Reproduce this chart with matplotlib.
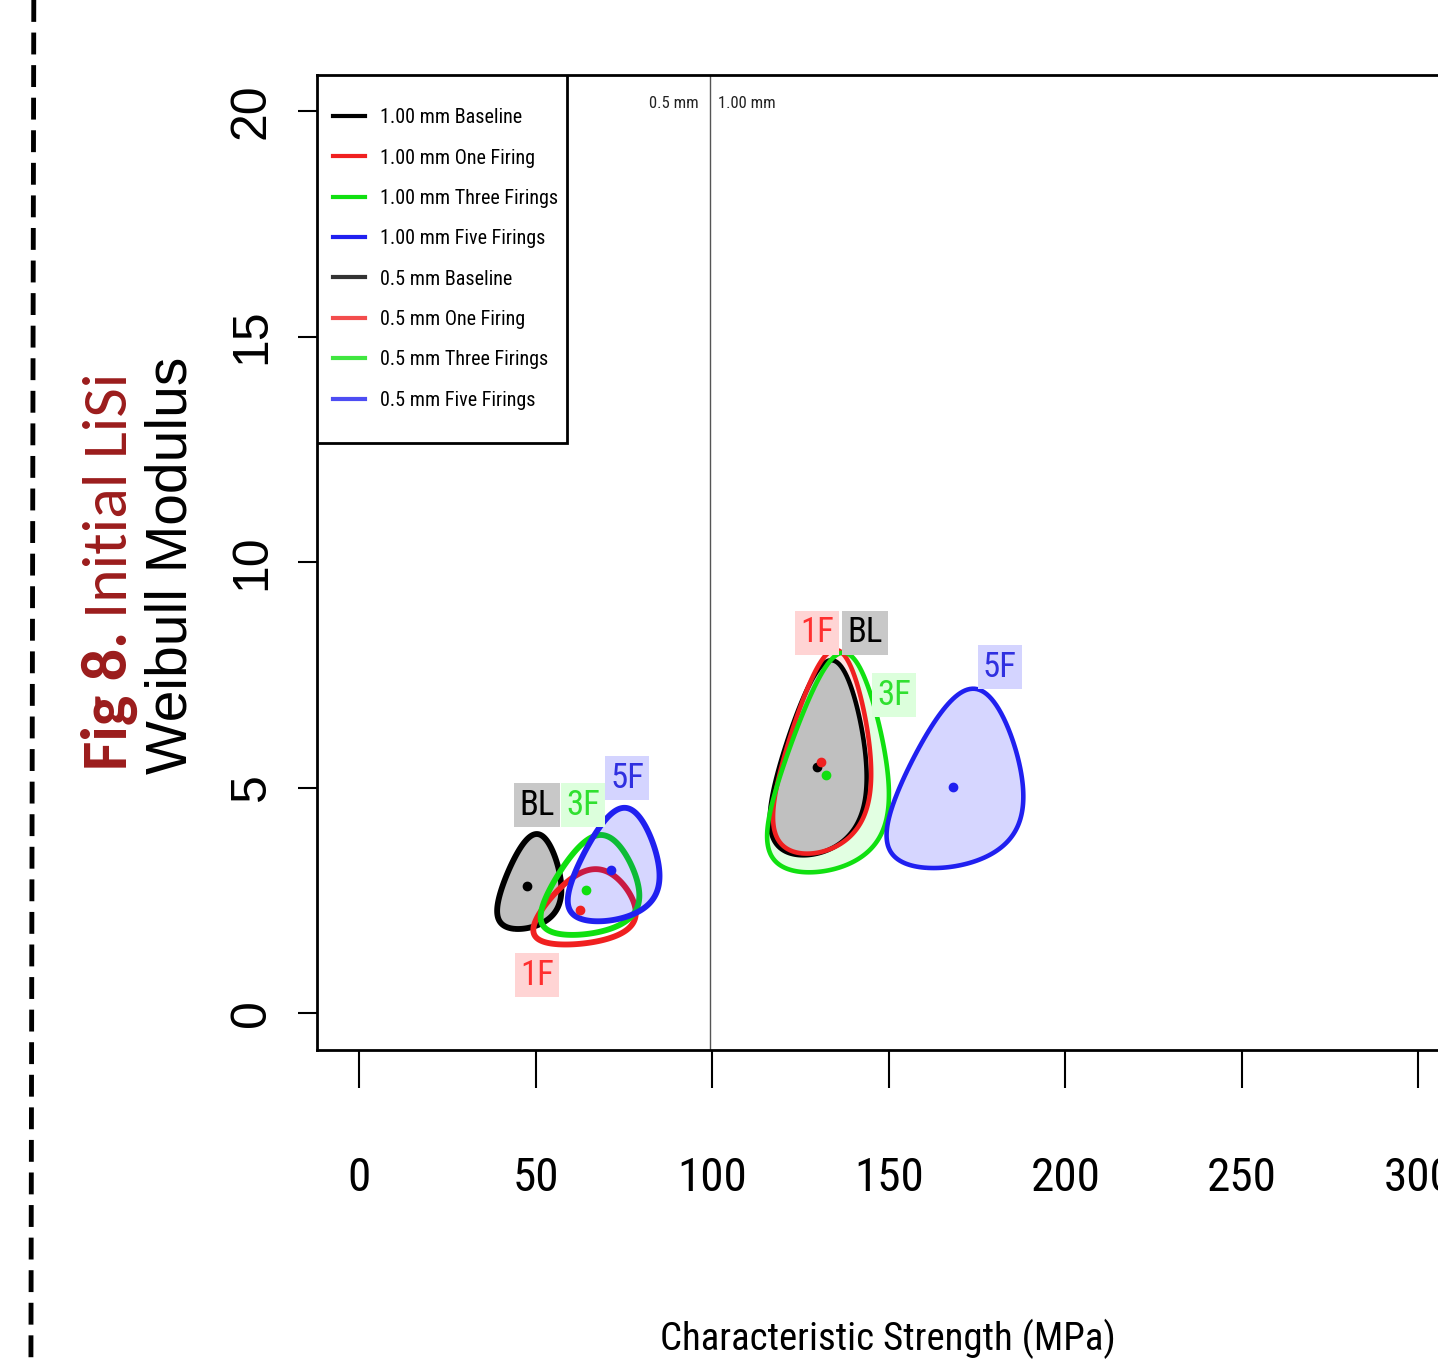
import math
import numpy as np
import matplotlib
matplotlib.use("Agg")
import matplotlib.pyplot as plt
from matplotlib.lines import Line2D
from matplotlib.patches import Rectangle

# ------------------------------------------------------------------ data
groups = ["BL", "1F", "3F", "5F"]
group_names = ["Baseline", "One Firing", "Three Firings", "Five Firings"]

# Weibull MLEs: characteristic strength (MPa), modulus
eta_100 = [129.7, 130.8, 132.2, 168.2]
beta_100 = [5.45, 5.57, 5.28, 5.01]
n_100 = [23, 22, 17, 23]          # specimens per group (sets region size)

eta_05 = [47.6, 62.6, 64.3, 71.3]
beta_05 = [2.82, 2.28, 2.73, 3.17]
n_05 = [26, 27, 22, 23]

x_ticks = [0, 50, 100, 150, 200, 250, 300]
y_ticks = [0, 5, 10, 15, 20]
thickness_split = 99.3            # MPa, divider between the two thicknesses

# ------------------------------------------------------------------ style
LINE = ["black", "#f02020", "#10e010", "#2020f0"]
LABEL_TXT = ["black", "#ff3030", "#30e030", "#3030e0"]
LABEL_BG = ["#c8c8c8", "#ffd4d4", "#dcffdc", "#d4d4ff"]
FIG_RED = "#9b1c1c"
NARROW = ["Liberation Sans Narrow", "Arial Narrow", "Roboto Condensed",
          "Archivo Narrow", "PT Sans Narrow", "Liberation Sans", "DejaVu Sans"]
CALIBRI = ["Carlito", "Calibri", "Roboto Condensed", "Liberation Sans",
           "DejaVu Sans"]
SANS = ["Liberation Sans", "DejaVu Sans"]

# label anchor points (data units) for the BL/1F/3F/5F tags
label_pos_05 = [(50.4, 4.61), (50.4, 0.84), (63.4, 4.61), (75.9, 5.21)]
label_pos_100 = [(143.3, 8.43), (129.7, 8.43), (151.5, 7.05), (181.5, 7.67)]

EULER = 0.5772156649
CHI2_95 = 5.991 / 2.0
lgamma = np.vectorize(math.lgamma)


def exp_loglik(eta, beta, eta0, beta0):
    """Expected per-specimen Weibull log-likelihood for data ~ W(eta0, beta0)."""
    return (np.log(beta) - beta * np.log(eta)
            + (beta - 1) * (np.log(eta0) - EULER / beta0)
            - np.exp(beta * np.log(eta0 / eta) + lgamma(1 + beta / beta0)))


def region(eta0, beta0, n):
    e = np.linspace(eta0 * 0.55, eta0 * 1.6, 260)
    b = np.linspace(beta0 * 0.35, beta0 * 2.0, 260)
    E, B = np.meshgrid(e, b)
    D = n * (exp_loglik(eta0, beta0, eta0, beta0) - exp_loglik(E, B, eta0, beta0))
    return E, B, D


def draw_group(ax, etas, betas, ns, fills, lw):
    # fills: per group (face, alpha, zorder) or None
    for i in range(4):
        E, B, D = region(etas[i], betas[i], ns[i])
        if fills[i] is not None:
            face, alpha, z = fills[i]
            ax.contourf(E, B, D, levels=[0, CHI2_95], colors=[face],
                        alpha=alpha, zorder=z)
        z_line = 3.5 if i == 3 else 2 + (0.1 if i == 0 else 0.2 * i)
        ax.contour(E, B, D, levels=[CHI2_95], colors=[LINE[i]],
                   linewidths=lw, zorder=z_line)
        ax.plot(etas[i], betas[i], "o", color=LINE[i], ms=6, zorder=5)


def tag(ax, pos, i):
    ax.text(pos[0], pos[1], groups[i], color=LABEL_TXT[i], fontsize=25,
            family=NARROW, ha="center", va="center", zorder=6,
            bbox=dict(boxstyle="square,pad=0.15", fc=LABEL_BG[i], ec="none"))


# --------------------------------------------------------------- figure
fig = plt.figure(figsize=(14.38, 13.67), dpi=100)
ax = fig.add_axes([0.2202, 0.2319, 0.8153, 0.7132])
ax.set_xlim(-12, 320)
ax.set_ylim(-0.82, 20.8)

fills_100 = [("#c0c0c0", 1.0, 1.5), ("#ffe2e2", 1.0, 1.0),
             ("#e2ffe2", 1.0, 0.9), ("#0000ff", 0.16, 3.4)]
fills_05 = [("#c0c0c0", 1.0, 1.5), None, None, ("#0000ff", 0.16, 3.4)]

draw_group(ax, eta_100, beta_100, n_100, fills_100, lw=3.3)
draw_group(ax, eta_05, beta_05, n_05, fills_05, lw=4.2)

for i in range(4):
    tag(ax, label_pos_05[i], i)
    tag(ax, label_pos_100[i], i)

# thickness divider
ax.axvline(thickness_split, color="#555555", lw=1.0, zorder=1)
ax.annotate("0.5 mm", xy=(thickness_split, 20.18), xytext=(-8, 0),
            textcoords="offset points", ha="right", va="center",
            fontsize=12, family=NARROW, color="#222222")
ax.annotate("1.00 mm", xy=(thickness_split, 20.18), xytext=(6, 0),
            textcoords="offset points", ha="left", va="center",
            fontsize=12, family=NARROW, color="#222222")

# axes cosmetics (R base-graphics look)
for s in ax.spines.values():
    s.set_linewidth(2.0)
ax.set_xticks(x_ticks)
ax.set_yticks(y_ticks)
ax.tick_params(axis="x", direction="out", length=27, width=1.5, pad=49,
               labelsize=34)
ax.tick_params(axis="y", direction="out", length=14, width=1.5, pad=16,
               labelsize=36, labelrotation=90)
for lab in ax.get_xticklabels():
    lab.set_family(NARROW)
for lab in ax.get_yticklabels():
    lab.set_family(SANS)
    lab.set_va("center")

ax.set_xlabel("Characteristic Strength (MPa)", fontsize=28, family=NARROW)
ax.xaxis.set_label_coords(0.487, -0.276)
ax.set_ylabel("Weibull Modulus", fontsize=41, family=SANS)
ax.yaxis.set_label_coords(-0.101, 0.497)

# legend (frame drawn separately: R pads it more vertically than sideways)
handles, labels = [], []
for thick, alpha in (("1.00 mm", 1.0), ("0.5 mm", 0.8)):
    for i in range(4):
        handles.append(Line2D([], [], color=LINE[i], lw=3, alpha=alpha))
        labels.append(f"{thick} {group_names[i]}")
leg = ax.legend(handles, labels, loc="upper left",
                bbox_to_anchor=(0, 1 - 17 / 975), borderaxespad=0,
                frameon=False, prop=dict(family=NARROW, size=14.5),
                handlelength=1.6, handletextpad=0.75, labelspacing=1.06,
                borderpad=0.8)
leg.set_zorder(7)

# side caption
t1 = fig.text(127 / 1438, 1 - 770 / 1367, "Fig 8.", rotation=90,
              rotation_mode="anchor", ha="left", va="baseline",
              fontsize=46, fontweight="bold", family=CALIBRI, color=FIG_RED)
fig.canvas.draw()
bb = t1.get_window_extent()
fig.text(127 / 1438, (bb.y1 + 13) / fig.bbox.height, "Initial LiSi",
         rotation=90, rotation_mode="anchor", ha="left", va="baseline",
         fontsize=46, family=CALIBRI, color=FIG_RED)

lb = leg.get_window_extent()
inv = ax.transAxes.inverted()
(x0, y0), (x1, _) = inv.transform([(lb.x0, lb.y0 - 17), (lb.x1 - 7, lb.y1)])
ax.add_patch(Rectangle((0, y0), x1, 1 - y0, transform=ax.transAxes,
                       fc="white", ec="black", lw=2.0, zorder=6.9))

# dashed cut line at the left edge
fig.add_artist(Line2D([0.0235, 0.0215], [1.0, 0.0], transform=fig.transFigure,
                      color="black", lw=3.5, dashes=(4.5, 2.2)))

fig.savefig("out.png", dpi=100)
